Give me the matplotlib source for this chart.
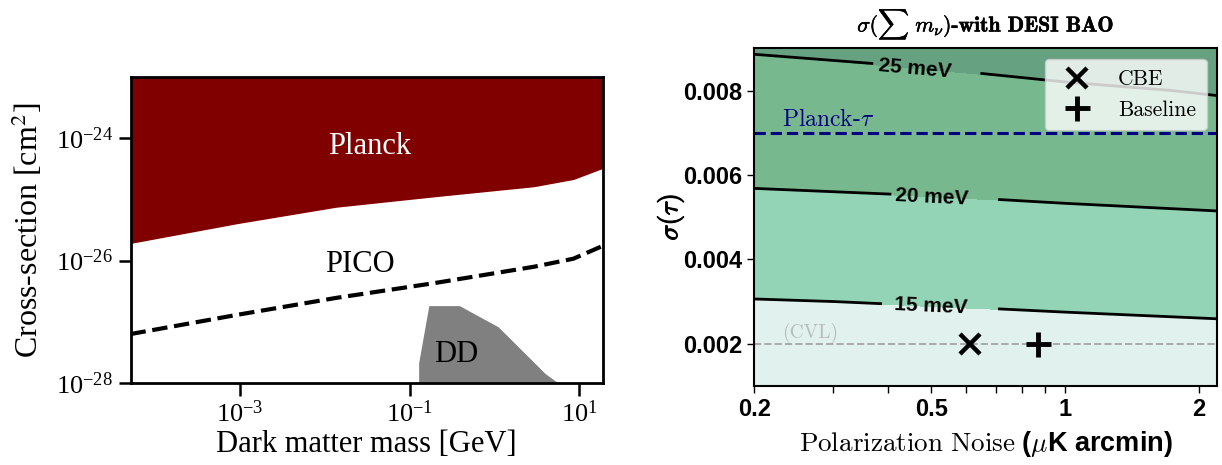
import numpy as np
import matplotlib
matplotlib.use("Agg")
import matplotlib.pyplot as plt
import matplotlib.patheffects as pe
from matplotlib.ticker import NullFormatter

plt.rcParams["font.family"] = ["Liberation Serif"]
plt.rcParams["mathtext.fontset"] = "stix"

# ---- left panel data ----
planck_mass = [5.1e-5, 9.3e-4, 1.35e-2, 0.2, 2.9, 8.5, 19.0]
planck_sigma = [1.9e-26, 4.0e-26, 7.4e-26, 1.1e-25, 1.6e-25, 2.1e-25, 3.2e-25]

pico_mass = [5.1e-5, 9.3e-4, 1.35e-2, 0.2, 2.9, 8.5, 19.0]
pico_sigma = [6.3e-28, 1.3e-27, 2.45e-27, 4.3e-27, 7.9e-27, 1.07e-26, 1.74e-26]

dd_mass = [0.129, 0.129, 0.17, 0.39, 1.12, 4.0, 5.6]
dd_sigma = [1e-28, 2.1e-28, 1.8e-27, 1.8e-27, 8.1e-28, 1.4e-28, 1e-28]

# ---- right panel data ----
noise = [0.2, 0.5, 1.0, 2.2]
sigma_tau = [0.001, 0.002, 0.003, 0.004, 0.005, 0.006, 0.007, 0.008, 0.009]
# sigma(sum m_nu) in meV, rows = sigma_tau, cols = noise
sigma_mnu = [
    [10.99, 11.33, 11.57, 11.88],
    [12.94, 13.28, 13.53, 13.84],
    [14.88, 15.23, 15.49, 15.80],
    [16.83, 17.19, 17.45, 17.77],
    [18.78, 19.14, 19.41, 19.73],
    [20.57, 20.92, 21.21, 21.57],
    [22.12, 22.56, 22.93, 23.39],
    [23.67, 24.20, 24.65, 25.22],
    [25.22, 25.83, 26.38, 27.04],
]
levels = [15, 20, 25]
cbe_noise, cbe_tau = 0.61, 0.002
base_noise, base_tau = 0.87, 0.002
planck_tau = 0.007
cvl_tau = 0.002

fig = plt.figure(figsize=(12.22, 4.65), dpi=100)
ax1 = fig.add_axes([0.1068, 0.1763, 0.3867, 0.6587])
ax2 = fig.add_axes([0.6173, 0.1699, 0.3789, 0.7262])

# left panel
ax1.set_xscale("log")
ax1.set_yscale("log")
ax1.fill_between(planck_mass, planck_sigma, 1e-23, color="#800000", lw=0)
ax1.plot(pico_mass, pico_sigma, "k--", lw=3)
ax1.fill(dd_mass, dd_sigma, color="#808080", lw=0)
ax1.text(0.034, 7.2e-25, "Planck", color="white", fontsize=22, ha="center", va="center")
ax1.text(0.026, 8.5e-27, "PICO", color="black", fontsize=22, ha="center", va="center")
ax1.text(0.355, 2.9e-28, "DD", color="black", fontsize=22, ha="center", va="center")
ax1.set_xlim(5.1e-5, 19)
ax1.set_ylim(1e-28, 1e-23)
ax1.set_xticks([1e-3, 1e-1, 1e1])
ax1.set_yticks([1e-28, 1e-26, 1e-24])
ax1.xaxis.set_minor_locator(plt.NullLocator())
ax1.yaxis.set_minor_locator(plt.NullLocator())
ax1.tick_params(labelsize=19, length=9, width=1.8)
for s in ax1.spines.values():
    s.set_linewidth(2)
ax1.set_xlabel("Dark matter mass [GeV]", fontsize=22, labelpad=2)
ax1.set_ylabel("Cross-section [cm$^2$]", fontsize=23, labelpad=8)

# right panel
sans = "Liberation Sans"
X, Y = np.meshgrid(noise, sigma_tau)
Z = np.array(sigma_mnu)
ax2.set_xscale("log")
ax2.contourf(X, Y, Z, levels=[0] + levels + [40],
             colors=["#e0f1ee", "#93d3b6", "#78b88e", "#66a282"])
cs = ax2.contour(X, Y, Z, levels=levels, colors="black", linewidths=2)
lbls = ax2.clabel(cs, fmt="%d meV", fontsize=15, inline_spacing=22,
                  manual=[(0.5, 0.0029), (0.5, 0.0054), (0.46, 0.0086)])
for t in lbls:
    t.set_fontfamily(sans)
    t.set_fontweight("bold")

ax2.axhline(planck_tau, color="#000080", ls="--", lw=2.2)
ax2.axhline(cvl_tau, color="#aaaaaa", ls="--", lw=1.4)
ax2.text(0.231, 0.00715, r"Planck-$\tau$", color="#000080", fontsize=17,
         family="cmr10", math_fontfamily="cm")
ax2.text(0.231, 0.00213, "(CVL)", color="#bbbbbb", fontsize=14, family="cmr10")

ax2.plot(cbe_noise, cbe_tau, "x", color="black", ms=15, mew=3.2, ls="none", label="CBE")
ax2.plot(base_noise, base_tau, "+", color="black", ms=18, mew=3.5, ls="none", label="Baseline")
ax2.legend(loc="upper right", prop={"family": "cmr10", "size": 15.5},
           handletextpad=0.9, borderpad=0.5, labelspacing=0.5)

ax2.set_xlim(0.2, 2.2)
ax2.set_ylim(0.001, 0.009)
ax2.set_xticks([0.2, 0.5, 1, 2], ["0.2", "0.5", "1", "2"],
               fontfamily=sans, fontweight="bold", fontsize=17)
ax2.set_xticks([0.3, 0.4, 0.6, 0.7, 0.8, 0.9], minor=True)
ax2.xaxis.set_minor_formatter(NullFormatter())
ax2.set_yticks([0.002, 0.004, 0.006, 0.008], ["0.002", "0.004", "0.006", "0.008"],
               fontfamily=sans, fontweight="bold", fontsize=17)
ax2.tick_params(which="both", length=5, width=1)
for s in ax2.spines.values():
    s.set_linewidth(1.5)
ax2.set_xlabel(r"$\mathrm{Polarization\ Noise}$ ($\mu$K arcmin)", fontsize=19.5,
               fontfamily=sans, fontweight="bold", math_fontfamily="cm", labelpad=6)
ax2.set_ylabel(r"$\sigma(\tau)$", fontsize=19, math_fontfamily="cm", labelpad=-2,
               path_effects=[pe.withStroke(linewidth=0.8, foreground="black")])
ax2.set_title(r"$\sigma(\sum\ m_{\nu})$-with DESI BAO", fontsize=15.5, fontfamily="cmb10",
              math_fontfamily="cm", pad=12,
              path_effects=[pe.withStroke(linewidth=0.4, foreground="black")])

fig.savefig("out.png", dpi=100)
